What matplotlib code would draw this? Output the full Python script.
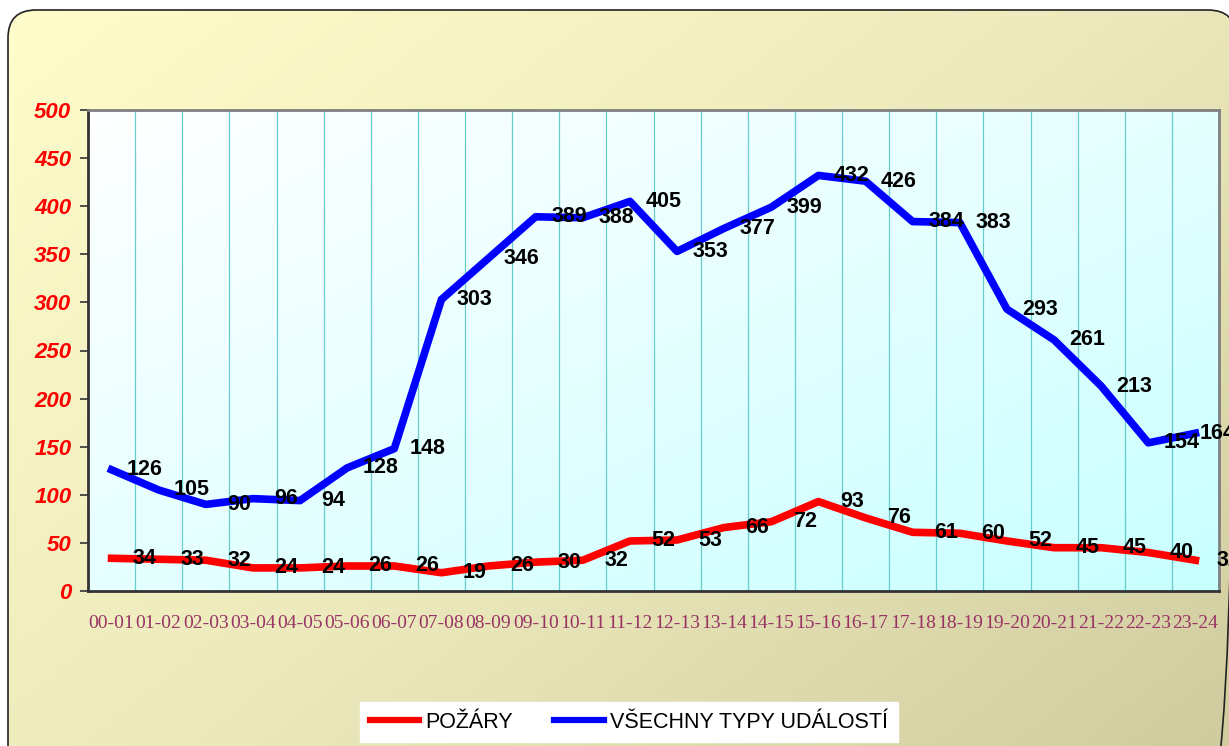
import numpy as np
import matplotlib
matplotlib.use("Agg")
import matplotlib.pyplot as plt
from matplotlib.patches import FancyBboxPatch
from matplotlib.colors import LinearSegmentedColormap

categories = ["00-01", "01-02", "02-03", "03-04", "04-05", "05-06", "06-07", "07-08",
              "08-09", "09-10", "10-11", "11-12", "12-13", "13-14", "14-15", "15-16",
              "16-17", "17-18", "18-19", "19-20", "20-21", "21-22", "22-23", "23-24"]
pozary = [34, 33, 32, 24, 24, 26, 26, 19, 26, 30, 32, 52, 53, 66, 72, 93, 76, 61, 60, 52, 45, 45, 40, 32]
vsechny = [126, 105, 90, 96, 94, 128, 148, 303, 346, 389, 388, 405, 353, 377, 399, 432, 426, 384, 383,
           293, 261, 213, 154, 164]
yticks = [0, 50, 100, 150, 200, 250, 300, 350, 400, 450, 500]
series_names = ["POŽÁRY", "VŠECHNY TYPY UDÁLOSTÍ"]

W, H = 1229, 746
fig = plt.figure(figsize=(W / 100, H / 100), dpi=100)
fig.patch.set_facecolor("white")

# background panel with rounded border and diagonal gradient
bg = fig.add_axes([0, 0, 1, 1], zorder=-10)
bg.set_xlim(0, W)
bg.set_ylim(H, 0)
bg.axis("off")
gx, gy = np.meshgrid(np.linspace(0, 1, 200), np.linspace(0, 1, 200))
grad = (gx * 0.55 + gy * 0.45)
cmap_bg = LinearSegmentedColormap.from_list("bg", ["#FFFDCB", "#ECE9BC", "#CECA9E"])
im = bg.imshow(grad, extent=[8, 1236, 800, 10], cmap=cmap_bg, aspect="auto", zorder=0)
box = FancyBboxPatch((8, 10), 1228, 790, boxstyle="round,pad=0,rounding_size=28",
                     facecolor="none", edgecolor="#222222", linewidth=1.2, zorder=2)
bg.add_patch(box)
im.set_clip_path(box)

ax = fig.add_axes([88 / W, 1 - 591 / H, (1219 - 88) / W, (591 - 110) / H])
x = np.arange(len(categories))
ax.set_xlim(-0.5, len(categories) - 0.5)
ax.set_ylim(yticks[0], yticks[-1])

cmap_pl = LinearSegmentedColormap.from_list("pl", ["#FFFFFF", "#E6FFFF", "#C8FFFF"])
pgx, pgy = np.meshgrid(np.linspace(0, 1, 200), np.linspace(0, 1, 200))
ax.imshow(pgx * 0.5 + pgy * 0.5, extent=[-0.5, len(categories) - 0.5, yticks[0], yticks[-1]],
          origin="upper", cmap=cmap_pl, aspect="auto", zorder=0)

ax.set_xticks(x)
ax.set_xticklabels(categories, fontfamily="Liberation Serif", fontsize=14, color="#993366")
ax.set_xticks(np.arange(0.5, len(categories) - 1, 1), minor=True)
ax.tick_params(axis="x", which="both", length=0, pad=17)
ax.grid(True, axis="x", which="minor", color="#66CCCC", linewidth=0.9, zorder=1)
ax.set_yticks(yticks)
ax.set_yticklabels([str(v) for v in yticks], fontfamily="Liberation Sans", fontsize=16,
                   fontweight="bold", fontstyle="italic", color="#FF0000")
ax.tick_params(axis="y", length=6, width=1.2, color="#333333", pad=6)

for side in ["top", "right"]:
    ax.spines[side].set_color("#808080")
    ax.spines[side].set_linewidth(2)
for side in ["left", "bottom"]:
    ax.spines[side].set_color("#333333")
    ax.spines[side].set_linewidth(2)

l1, = ax.plot(x, pozary, color="#FF0000", linewidth=5.5, zorder=3, solid_joinstyle="round",
              label=series_names[0])
l2, = ax.plot(x, vsechny, color="#0000FF", linewidth=5.5, zorder=3, solid_joinstyle="round",
              label=series_names[1])

for si, series in enumerate((pozary, vsechny)):
    for xi, v in zip(x, series):
        dx = 24
        if si == 1 and xi == len(categories) - 1:
            dx = 16  # Excel pulls this label inward so it stays mostly visible
        ax.annotate(str(v), (xi, v), xytext=(dx, 0), textcoords="offset points",
                    ha="center", va="center", fontsize=15.5, fontweight="bold",
                    fontfamily="Liberation Sans", color="black", zorder=5,
                    annotation_clip=False)

leg = fig.legend(handles=[l1, l2], loc="center", bbox_to_anchor=(629 / W, 1 - 722 / H),
                 ncol=2, frameon=True, fancybox=False, handlelength=2.3, columnspacing=1.9,
                 prop={"family": "Liberation Sans", "size": 15.5},
                 borderpad=0.45, handletextpad=0.3)
leg.get_frame().set_facecolor("white")
leg.get_frame().set_edgecolor("white")
leg.get_frame().set_alpha(1)
for h in leg.get_lines():
    h.set_linewidth(4.5)

fig.savefig("out.png", dpi=100)
